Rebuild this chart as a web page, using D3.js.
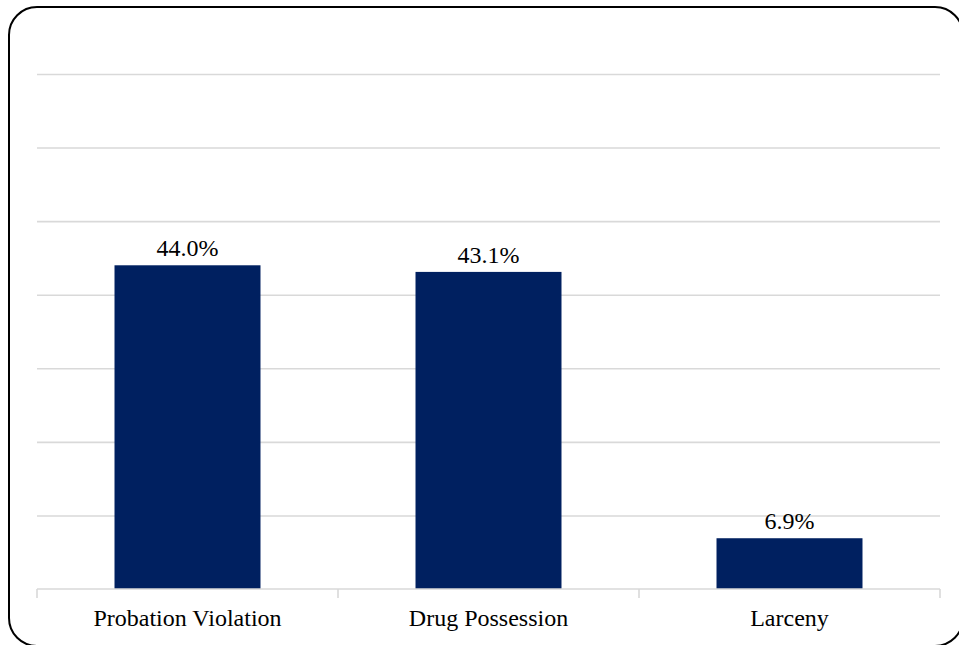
<!DOCTYPE html>
<html>
<head>
<meta charset="utf-8">
<script src="https://cdn.jsdelivr.net/npm/d3@7"></script>
<style>
  html, body { margin: 0; padding: 0; background: #fff; overflow: hidden; }
  svg { display: block; font-family: "Liberation Serif", "Times New Roman", serif; }
</style>
</head>
<body>
<svg id="chart" width="959" height="645"></svg>
<script>
// Offense categories and their shares (%)
const categories = ["Probation Violation", "Drug Possession", "Larceny"];
const shares = [44.0, 43.1, 6.9];
const gridTicks = [10, 20, 30, 40, 50, 60, 70];

const svg = d3.select("#chart");
const W = 959, H = 645;
const margin = { left: 37, right: 19, top: 74, bottom: 56 };
const plotW = W - margin.left - margin.right;
const baseY = H - margin.bottom;

// Rounded frame around the chart (runs slightly past the right and bottom edges)
svg.append("rect")
  .attr("x", 9).attr("y", 7)
  .attr("width", 954).attr("height", 639)
  .attr("rx", 28).attr("ry", 28)
  .attr("fill", "none").attr("stroke", "#000").attr("stroke-width", 2);

const x = d3.scaleBand()
  .domain(categories)
  .range([margin.left, margin.left + plotW])
  .paddingInner(0.515).paddingOuter(0.2575);

const y = d3.scaleLinear().domain([0, 70]).range([baseY, margin.top]);

// Horizontal gridlines
svg.append("g")
  .attr("transform", `translate(${margin.left},0)`)
  .call(d3.axisLeft(y).tickValues(gridTicks).tickSize(-plotW).tickFormat(""))
  .call(g => g.select(".domain").remove())
  .call(g => g.selectAll(".tick line").attr("stroke", "#d9d9d9").attr("stroke-width", 1.6));

// Bars
svg.append("g").selectAll("rect")
  .data(categories)
  .join("rect")
  .attr("x", d => x(d))
  .attr("width", x.bandwidth())
  .attr("y", (d, i) => y(shares[i]))
  .attr("height", (d, i) => baseY - y(shares[i]))
  .attr("fill", "#002060");

// Category axis with boundary ticks
const xb = d3.scaleLinear().domain([0, categories.length]).range([margin.left, margin.left + plotW]);
const axisG = svg.append("g");
axisG.append("line")
  .attr("x1", margin.left).attr("x2", margin.left + plotW)
  .attr("y1", baseY).attr("y2", baseY)
  .attr("stroke", "#d9d9d9").attr("stroke-width", 1.6);
axisG.selectAll("line.tick")
  .data(d3.range(categories.length + 1))
  .join("line")
  .attr("class", "tick")
  .attr("x1", d => xb(d)).attr("x2", d => xb(d))
  .attr("y1", baseY).attr("y2", baseY + 9)
  .attr("stroke", "#d9d9d9").attr("stroke-width", 1.6);

axisG.selectAll("text")
  .data(categories)
  .join("text")
  .attr("x", d => x(d) + x.bandwidth() / 2)
  .attr("y", baseY + 37)
  .attr("text-anchor", "middle")
  .attr("font-size", 24)
  .attr("fill", "#000")
  .text(d => d);

// Value labels
svg.append("g").selectAll("text")
  .data(categories)
  .join("text")
  .attr("x", d => x(d) + x.bandwidth() / 2)
  .attr("y", (d, i) => y(shares[i]) - 9)
  .attr("text-anchor", "middle")
  .attr("font-size", 24)
  .attr("fill", "#000")
  .text((d, i) => shares[i].toFixed(1) + "%");
</script>
</body>
</html>
